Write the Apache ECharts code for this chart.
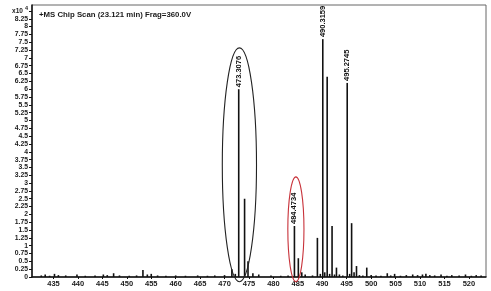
<!DOCTYPE html>
<html>
<head>
<meta charset="utf-8">
<script src="https://cdn.jsdelivr.net/npm/echarts@6/dist/echarts.min.js"></script>
<style>
  html, body { margin: 0; padding: 0; background: #fff; }
  #chart { width: 491px; height: 291px; }
</style>
</head>
<body>
<div id="chart"></div>
<script>
// m/z of every peak and its intensity (x10^4 counts)
var mz = [432.5, 433.3, 434.2, 435.2, 436, 437.5, 439.8, 441.5, 443.5, 445.2, 446, 447.3, 448.5,
    450.5, 452, 453.3, 454.2, 455, 456.3, 458, 460, 462, 464.5, 466.5, 468, 470, 471.5, 472.2,
    472.9, 474.1, 474.8, 475.8, 477, 479.5, 481.5, 483, 484.3, 485.1, 485.8, 486.5, 488,
    489.0, 489.6, 490.1, 490.5, 491.0, 491.5, 492.0, 492.5, 492.9, 493.5, 494.2,
    495.1, 495.6, 496.0, 496.5, 497.0, 497.6, 498.3, 499.1, 500, 501, 502, 503.3, 504, 504.8,
    506, 507.2, 508.5, 509.5, 510.5, 511.2, 512, 513, 514.3, 515.5, 516.5, 518, 519.3, 520.5,
    521.5, 522.5];
var intensity = [0.05, 0.08, 0.04, 0.1, 0.06, 0.05, 0.08, 0.04, 0.05, 0.08, 0.06, 0.12, 0.05,
    0.04, 0.05, 0.22, 0.08, 0.1, 0.05, 0.04, 0.05, 0.04, 0.05, 0.04, 0.05, 0.06, 0.25, 0.1,
    6.0, 2.5, 0.5, 0.12, 0.08, 0.05, 0.04, 0.05, 1.63, 0.6, 0.15, 0.08, 0.05,
    1.25, 0.1, 7.6, 0.15, 6.4, 0.1, 1.63, 0.08, 0.3, 0.08, 0.05,
    6.2, 0.1, 1.72, 0.15, 0.35, 0.06, 0.05, 0.3, 0.06, 0.05, 0.04, 0.12, 0.05, 0.1,
    0.04, 0.06, 0.08, 0.06, 0.08, 0.1, 0.06, 0.05, 0.08, 0.04, 0.06, 0.05, 0.08, 0.04,
    0.06, 0.05];

// peaks that carry an m/z label
var labelledMz = [472.9, 484.3, 490.1, 495.1];
var labelText = ['473.3076', '484.4734', '490.3159', '495.2745'];

var xTickValues = [435, 440, 445, 450, 455, 460, 465, 470, 475, 480, 485, 490, 495, 500, 505, 510, 515, 520];

// hand-drawn ellipses around the peaks of interest
var ellipses = [
    { mz: 473.04, halfWidth: 3.5, top: 7.32, bottom: -0.15, color: '#222' },
    { mz: 484.6, halfWidth: 1.65, top: 3.2, bottom: -0.15, color: '#c8323a' }
];

var seriesData = mz.map(function(m, i) {
    var item = { value: [m, intensity[i]] };
    var k = labelledMz.indexOf(m);
    if (k > -1) {
        item.label = { show: true, formatter: labelText[k] };
    }
    return item;
});

var myChart = echarts.init(document.getElementById('chart'));

var axisFont = {
    fontFamily: 'Liberation Sans, Arial, sans-serif',
    fontWeight: 'bold',
    color: '#1a1a1a'
};

var option = {
    animation: false,
    backgroundColor: '#fff',
    title: {
        text: '+MS Chip Scan (23.121 min) Frag=360.0V',
        left: 34,
        top: 6,
        textStyle: {
            fontFamily: 'Liberation Sans, Arial, sans-serif',
            fontWeight: 'bold',
            fontSize: 7.8,
            color: '#1a1a1a'
        }
    },
    grid: {
        left: 32,
        right: 5,
        top: 5,
        bottom: 14,
        show: true,
        borderColor: '#666',
        borderWidth: 1
    },
    xAxis: {
        type: 'value',
        min: 430.6,
        max: 523.5,
        splitLine: { show: false },
        axisLine: { onZero: false, lineStyle: { color: '#111', width: 1.5 } },
        axisTick: { length: 2, lineStyle: { color: '#111' }, customValues: xTickValues },
        axisLabel: Object.assign({ fontSize: 7.5, margin: 3, customValues: xTickValues }, axisFont)
    },
    yAxis: {
        type: 'value',
        min: 0,
        max: 8.69,
        interval: 0.25,
        splitLine: { show: false },
        axisLine: { show: true, lineStyle: { color: '#111', width: 1.5 } },
        axisTick: { show: true, length: 3, lineStyle: { color: '#111' } },
        axisLabel: Object.assign({
            fontSize: 6.8,
            margin: 4,
            showMaxLabel: false,
            formatter: function(v) {
                if (v > 8.6) return '';
                if (Math.abs(v - 8.5) < 1e-6) return '{a|x10}{b|4}';
                return String(v);
            },
            rich: {
                a: { fontSize: 6.5, fontWeight: 'bold', color: '#1a1a1a', fontFamily: 'Liberation Sans, Arial, sans-serif' },
                b: { fontSize: 5.5, fontWeight: 'bold', color: '#1a1a1a', verticalAlign: 'top', padding: [0, 0, 4, 2], fontFamily: 'Liberation Sans, Arial, sans-serif' }
            }
        }, axisFont)
    },
    series: [{
        type: 'bar',
        barWidth: 1.6,
        itemStyle: { color: '#111' },
        label: {
            show: false,
            position: 'top',
            rotate: 90,
            align: 'left',
            verticalAlign: 'middle',
            distance: 2,
            fontFamily: 'Liberation Sans Narrow, Arial Narrow, sans-serif',
            fontWeight: 'bold',
            fontSize: 7.5,
            color: '#111'
        },
        data: seriesData
    }]
};

myChart.setOption(option);

// ellipses are placed in data units through the chart's own scales
var graphics = ellipses.map(function(e) {
    var c = myChart.convertToPixel({ gridIndex: 0 }, [e.mz, (e.top + e.bottom) / 2]);
    var edge = myChart.convertToPixel({ gridIndex: 0 }, [e.mz + e.halfWidth, e.top]);
    return {
        type: 'ellipse',
        shape: { cx: c[0], cy: c[1], rx: edge[0] - c[0], ry: c[1] - edge[1] },
        style: { fill: null, stroke: e.color, lineWidth: 1.1 },
        z: 10,
        silent: true
    };
});

myChart.setOption({ graphic: graphics });
</script>
</body>
</html>
